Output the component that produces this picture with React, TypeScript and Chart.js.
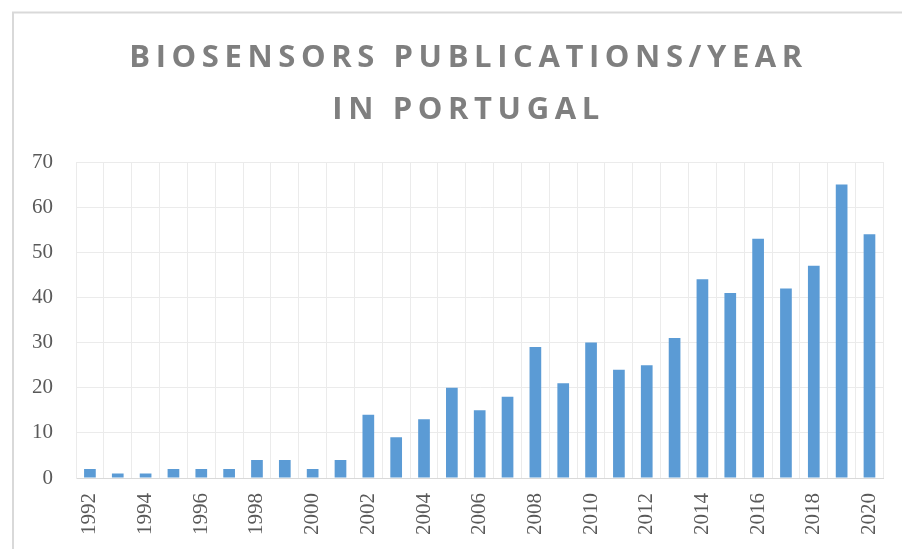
import React, { useEffect, useRef } from "react";
import { Chart, registerables } from "chart.js";

Chart.register(...registerables);

const years = [
  "1992", "1993", "1994", "1995", "1996", "1997", "1998", "1999", "2000", "2001",
  "2002", "2003", "2004", "2005", "2006", "2007", "2008", "2009", "2010", "2011",
  "2012", "2013", "2014", "2015", "2016", "2017", "2018", "2019", "2020",
];
const publications = [
  2, 1, 1, 2, 2, 2, 4, 4, 2, 4,
  14, 9, 13, 20, 15, 18, 29, 21, 30, 24,
  25, 31, 44, 41, 53, 42, 47, 65, 54,
];
const titleLines = ["BIOSENSORS PUBLICATIONS/YEAR", "IN PORTUGAL"];

const framePlugin = {
  id: "frameAndTitle",
  beforeDraw(chart: any) {
    const ctx = chart.ctx;
    ctx.save();
    ctx.strokeStyle = "#d9d9d9";
    ctx.lineWidth = 2;
    ctx.beginPath();
    ctx.moveTo(5, chart.height);
    ctx.lineTo(5, 4.5);
    ctx.lineTo(chart.width, 4.5);
    ctx.stroke();
    ctx.restore();
  },
  afterDraw(chart: any) {
    const ctx = chart.ctx;
    ctx.save();
    ctx.fillStyle = "#7f7f7f";
    ctx.font = "bold 31px 'Open Sans'";
    (ctx as any).letterSpacing = "5.6px";
    ctx.textAlign = "left";
    ctx.textBaseline = "alphabetic";
    const cx = chart.width * 0.5075;
    const baselines = [59, 111];
    titleLines.forEach((t, i) => {
      const w = ctx.measureText(t).width - 5.6;
      ctx.fillText(t, cx - w / 2, baselines[i]);
    });
    ctx.restore();
  },
};

export default function App() {
  const ref = useRef<HTMLCanvasElement | null>(null);
  useEffect(() => {
    if (!ref.current) return;
    const chart = new Chart(ref.current, {
      type: "bar",
      data: {
        labels: years,
        datasets: [
          {
            label: "Publications",
            data: publications,
            backgroundColor: "#5b9bd5",
            borderWidth: 0,
            categoryPercentage: 1,
            barPercentage: 0.42,
          },
        ],
      },
      options: {
        responsive: false,
        animation: false,
        layout: { padding: { top: 154, right: 19, left: 0, bottom: 0 } },
        plugins: {
          legend: { display: false },
          title: { display: false },
          tooltip: { enabled: false },
        },
        scales: {
          x: {
            grid: { color: "#ebebeb", drawTicks: false, offset: true },
            border: { color: "#d9d9d9" },
            ticks: {
              autoSkip: false,
              minRotation: 90,
              maxRotation: 90,
              padding: 15,
              color: "#595959",
              font: { family: "'Liberation Serif'", size: 21 },
              callback: (_v: any, i: number) => (i % 2 === 0 ? years[i] : ""),
            },
            afterFit: (s: any) => {
              s.height = 71;
            },
          },
          y: {
            min: 0,
            max: 70,
            grid: {
              drawTicks: false,
              color: (c: any) => (c.tick && c.tick.value === 0 ? "#d9d9d9" : "#ebebeb"),
            },
            border: { color: "#ebebeb" },
            ticks: {
              stepSize: 10,
              padding: 23,
              color: "#595959",
              font: { family: "'Liberation Serif'", size: 21 },
            },
            afterFit: (s: any) => {
              s.width = 68;
            },
          },
        },
      },
      plugins: [framePlugin],
    });
    return () => chart.destroy();
  }, []);
  return (
    <div style={{ width: 902, height: 541 }}>
      <canvas ref={ref} width={902} height={541} style={{ display: "block" }} />
    </div>
  );
}
